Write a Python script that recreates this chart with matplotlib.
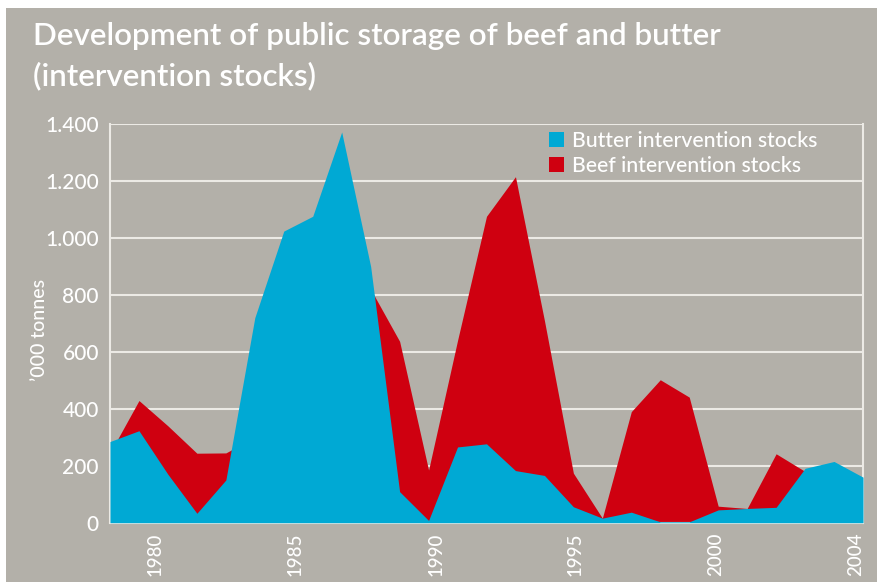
import matplotlib
matplotlib.use('Agg')
import matplotlib.pyplot as plt
from matplotlib.patches import Patch, Rectangle
from matplotlib.ticker import FuncFormatter

# ---- data ('000 tonnes, end of year) ----
years = list(range(1978, 2005))
butter = [285, 323, 170, 33, 150, 720, 1024, 1076, 1372, 900, 109, 8, 266, 277,
          183, 166, 56, 16, 37, 3, 3, 45, 50, 54, 191, 215, 160]
beef = [245, 429, 340, 244, 245, 300, 450, 550, 600, 820, 637, 185, 640, 1076,
        1215, 710, 174, 16, 390, 502, 441, 58, 50, 242, 180, 30, 0]
tick_labels = ['1980', '1985', '1990', '1995', '2000', '2004']
tick_pos = [1979.55, 1984.4, 1989.25, 1994.05, 1998.9, 2003.75]
y_ticks = [0, 200, 400, 600, 800, 1000, 1200, 1400]
series_names = ['Butter intervention stocks', 'Beef intervention stocks']
title_lines = ['Development of public storage of beef and butter', '(intervention stocks)']

BG = '#b3b0a9'
BLUE = '#00a9d4'
RED = '#cf0010'
GRID = '#eceae5'
FONT = ['Lato', 'DejaVu Sans']

plt.rcParams['font.family'] = FONT

fig = plt.figure(figsize=(8.78, 5.82), dpi=100, facecolor='white')
fig.patches.append(Rectangle((6 / 878, 0), 1, 1 - 8 / 582, transform=fig.transFigure,
                             facecolor=BG, edgecolor='none', zorder=-10))

ax = fig.add_axes([110 / 878, 59.3 / 582, 753 / 878, 398.7 / 582])
ax.set_facecolor(BG)

ax.fill_between(years, 0, beef, color=RED, lw=0, zorder=2)
ax.fill_between(years, 0, butter, color=BLUE, lw=0, zorder=3)

ax.set_xlim(years[0], years[-1])
ax.set_ylim(0, 1400)
ax.set_yticks(y_ticks)
ax.yaxis.set_major_formatter(FuncFormatter(lambda v, p: f"{int(v):,}".replace(',', '.')))
ax.set_xticks(tick_pos)
ax.set_xticklabels(tick_labels, rotation=90)
ax.tick_params(axis='both', length=0, colors='white')
ax.tick_params(axis='y', labelsize=15, pad=8)
ax.tick_params(axis='x', labelsize=13.5, pad=7)
for lab in ax.get_xticklabels() + ax.get_yticklabels():
    lab.set_fontweight('medium')
ax.grid(axis='y', color=GRID, lw=1.5, zorder=1)
ax.set_axisbelow(True)
for s in ['left', 'right', 'bottom']:
    ax.spines[s].set_color(GRID)
    ax.spines[s].set_linewidth(1.5)
ax.spines['top'].set_visible(False)

ax.set_ylabel('\u2019000 tonnes', color='white', fontsize=14, fontweight='medium')
ax.yaxis.set_label_coords(-0.083, 0.483)

handles = [Patch(facecolor=BLUE, edgecolor='none', label=series_names[0]),
           Patch(facecolor=RED, edgecolor='none', label=series_names[1])]
leg = ax.legend(handles=handles, loc='upper left', bbox_to_anchor=(0.583, 0.983),
                frameon=False, handlelength=0.7, handleheight=0.7, handletextpad=0.4,
                labelspacing=0.25, borderpad=0, borderaxespad=0,
                prop={'size': 15.3, 'weight': 'medium'}, labelcolor='white')

fig.text(33 / 878, 1 - 45 / 582, title_lines[0], color='white', fontsize=22.6,
         fontweight='semibold', va='baseline', ha='left')
fig.text(33 / 878, 1 - 85 / 582, title_lines[1], color='white', fontsize=22.6,
         fontweight='semibold', va='baseline', ha='left')

fig.savefig('out.png', dpi=100, facecolor=fig.get_facecolor())
